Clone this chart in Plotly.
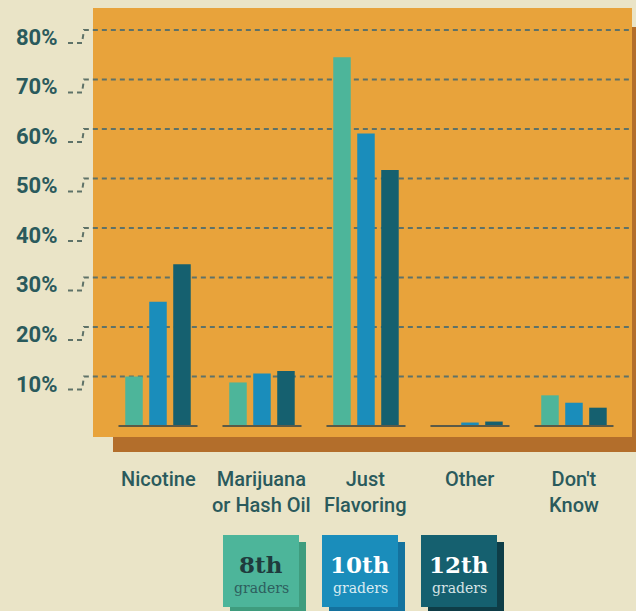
import plotly.graph_objects as go

# ---------------- data ----------------
categories = ["Nicotine", "Marijuana<br>or Hash Oil", "Just<br>Flavoring", "Other", "Don't<br>Know"]
grade8 = [10.0, 8.8, 74.5, 0.2, 6.2]
grade10 = [25.1, 10.6, 59.1, 0.7, 4.7]
grade12 = [32.7, 11.1, 51.7, 0.9, 3.7]
series_big = ["8th", "10th", "12th"]
series_small = ["graders", "graders", "graders"]
y_ticks = [10, 20, 30, 40, 50, 60, 70, 80]
y_tick_labels = ["10%", "20%", "30%", "40%", "50%", "60%", "70%", "80%"]

# ---------------- style ----------------
CREAM = "#EAE4C7"
ORANGE = "#E8A33B"
BROWN = "#B36E2B"
C8, C10, C12 = "#4DB59A", "#1A8DBB", "#15606F"
SH8, SH10, SH12 = "#3F9C7E", "#14729E", "#0E3D47"
TEAL_TXT = "#2A5A5C"
GRID = "#5E7268"

W, H = 636, 611
L, R, T, B = 93, 632, 8, 437
YMIN, YMAX = -2.22, 84.44
XMIN, XMAX = -0.625, 4.558


def px(x):
    return (x - L) / (R - L)


def py(y):
    return (B - y) / (B - T)


def yv(v):
    return (v - YMIN) / (YMAX - YMIN)


PPU = (B - T) / (YMAX - YMIN)  # pixels per unit

xpos = list(range(len(categories)))

fig = go.Figure()
for vals, col in [(grade8, C8), (grade10, C10), (grade12, C12)]:
    fig.add_trace(go.Bar(x=xpos, y=vals, marker=dict(color=col, line=dict(width=0)),
                         showlegend=False, hoverinfo="skip"))

shapes = []
# brown shadow panel
shapes.append(dict(type="rect", xref="paper", yref="paper", x0=px(113), x1=px(660),
                   y0=py(452), y1=py(27), fillcolor=BROWN, line=dict(width=0), layer="below"))
# orange panel
shapes.append(dict(type="rect", xref="paper", yref="paper", x0=0, x1=1, y0=0, y1=1,
                   fillcolor=ORANGE, line=dict(width=0), layer="below"))
# gridlines with bent connectors
for v in y_ticks:
    yl = yv(v)
    yd = yv(v - 13 / PPU)
    shapes.append(dict(type="path", xref="paper", yref="paper",
                       path=f"M {px(68)},{yd} L {px(82)},{yd} L {px(84)},{yl} L 1,{yl}",
                       line=dict(color=GRID, width=2, dash="5px,4px"), layer="below"))
# baselines under each group
for i in xpos:
    shapes.append(dict(type="line", xref="x", yref="y", x0=i - 0.38, x1=i + 0.38, y0=0, y1=0,
                       line=dict(color="#5B5A47", width=2), layer="above"))

annotations = []
for v, lab in zip(y_ticks, y_tick_labels):
    annotations.append(dict(xref="paper", yref="paper", x=px(60), y=yv(v - 7.5 / PPU),
                            xanchor="right", yanchor="middle", showarrow=False, text=lab,
                            font=dict(family="Roboto", size=22, color=TEAL_TXT, weight="bold")))
for i, cat in zip(xpos, categories):
    annotations.append(dict(xref="x", yref="paper", x=i, y=0, yanchor="top", yshift=-28,
                            showarrow=False, text=cat,
                            font=dict(family="Roboto", size=20, color=TEAL_TXT, weight=500)))

# legend boxes
legend_boxes = [(223, C8, SH8, "#1F3B3D", "#2D5E5E"),
                (322, C10, SH10, "#FFFFFF", "#D9ECF2"),
                (421, C12, SH12, "#FFFFFF", "#D6E4E6")]
for (x0, col, sh, tc1, tc2), big, small in zip(legend_boxes, series_big, series_small):
    shapes.append(dict(type="rect", xref="paper", yref="paper", x0=px(x0 + 7), x1=px(x0 + 83),
                       y0=py(620), y1=py(542), fillcolor=sh, line=dict(width=0)))
    shapes.append(dict(type="rect", xref="paper", yref="paper", x0=px(x0), x1=px(x0 + 76),
                       y0=py(607), y1=py(535), fillcolor=col, line=dict(width=0)))
    cx = px(x0 + 38)
    annotations.append(dict(xref="paper", yref="paper", x=cx, y=py(564), showarrow=False,
                            xanchor="center", yanchor="middle", text=big,
                            font=dict(family="DejaVu Serif", size=23, color=tc1, weight="bold")))
    annotations.append(dict(xref="paper", yref="paper", x=cx, y=py(588), showarrow=False,
                            xanchor="center", yanchor="middle", text=small,
                            font=dict(family="DejaVu Serif", size=14, color=tc2)))

fig.update_layout(
    width=W, height=H,
    margin=dict(l=L, r=W - R, t=T, b=H - B, pad=0),
    paper_bgcolor=CREAM, plot_bgcolor="rgba(0,0,0,0)",
    barmode="group", bargap=0.308, bargroupgap=0.27,
    xaxis=dict(range=[XMIN, XMAX], showgrid=False, zeroline=False, showticklabels=False,
               showline=False, fixedrange=True),
    yaxis=dict(range=[YMIN, YMAX], showgrid=False, zeroline=False, showticklabels=False,
               showline=False, fixedrange=True),
    shapes=shapes, annotations=annotations, showlegend=False,
)

fig.write_html("out.html", config={"displayModeBar": False},
               post_script="document.body.style.margin='0';document.body.style.background='%s';" % CREAM)
